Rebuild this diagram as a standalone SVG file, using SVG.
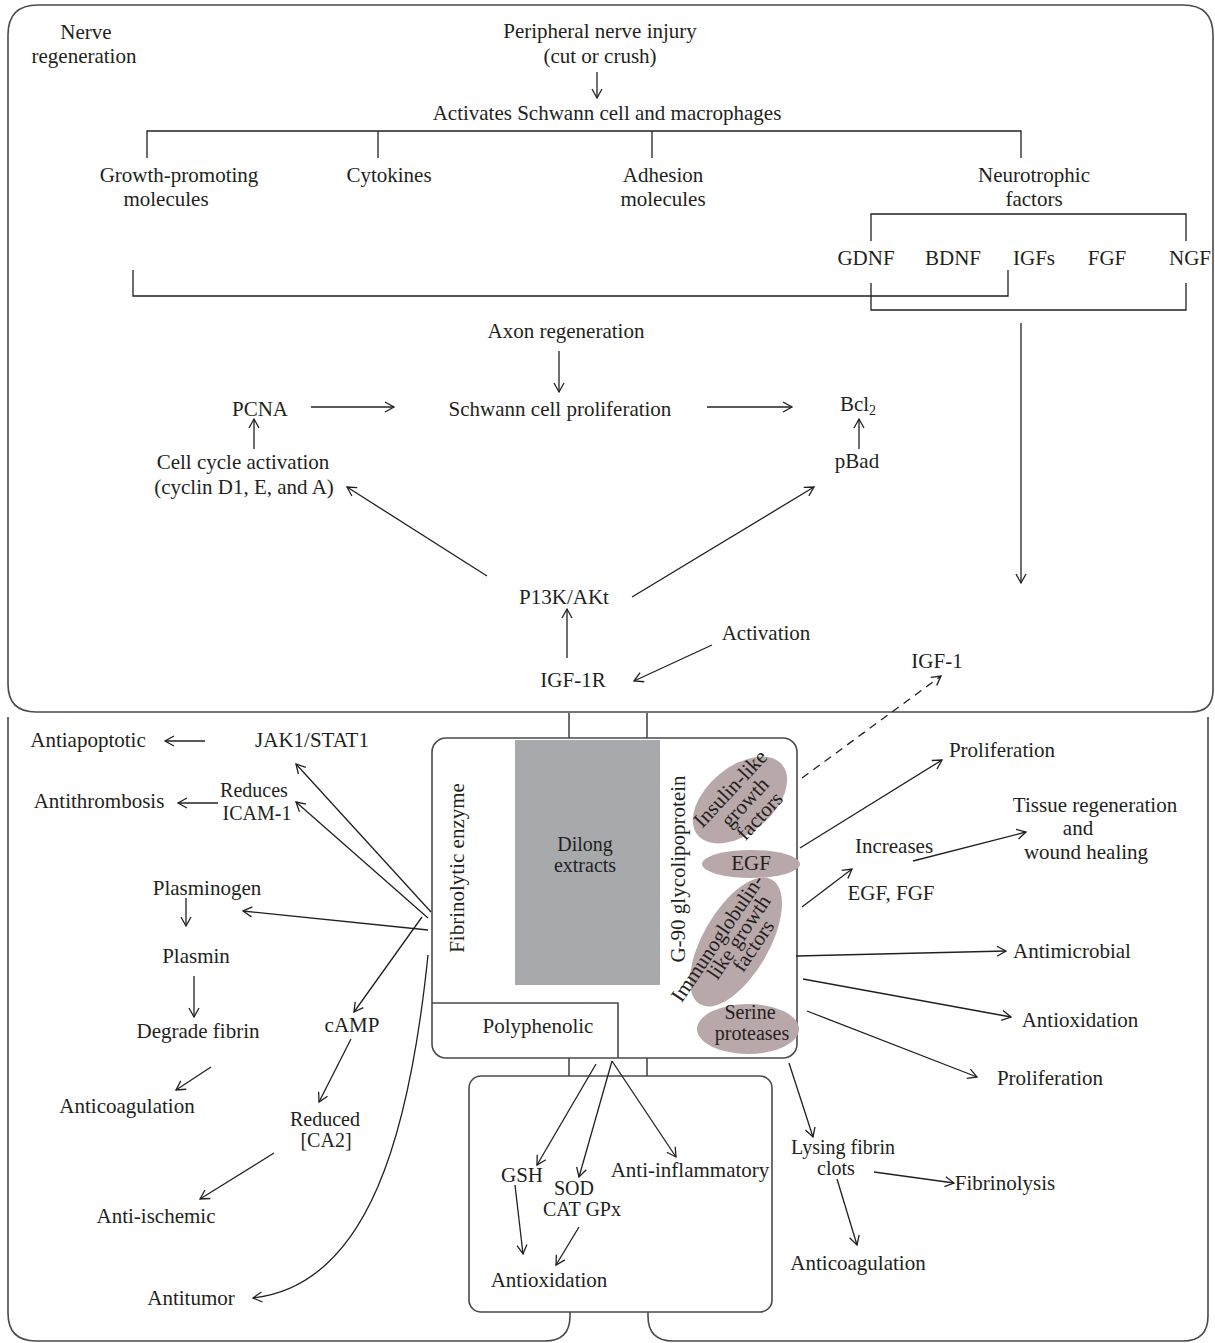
<svg xmlns="http://www.w3.org/2000/svg" width="1215" height="1343" viewBox="0 0 1215 1343">
<style>
.t{font-family:"Liberation Serif","Times New Roman",serif;font-size:21px;fill:#231f20;text-anchor:middle}
.s{font-size:20px}
.box{fill:none;stroke:#4a4a4a;stroke-width:1.6}
.ln{fill:none;stroke:#231f20;stroke-width:1.3}
.ar{marker-end:url(#ah)}
.el{fill:#b9a8aa}
</style>
<defs>
<marker id="ah" viewBox="-10 -6 12 12" refX="0" refY="0" markerWidth="12" markerHeight="12" markerUnits="userSpaceOnUse" orient="auto">
<path d="M-9,-5 L0,0 L-9,5" fill="none" stroke="#231f20" stroke-width="1.3"/>
</marker>
</defs>
<rect width="1215" height="1343" fill="#fff"/>

<g id="frames">
<path class="box" d="M38,5 H1183 Q1213,5 1213,35 V690 Q1213,712 1191,712 H36 Q8,712 8,684 V35 Q8,5 38,5 Z"/>
<path class="box" d="M8,717 V1313 Q8,1341 36,1341 H545 Q570,1341 570,1316 V1312"/>
<path class="box" d="M648,1312 V1316 Q648,1341 673,1341 H1183 Q1208,1341 1208,1316 V717"/>
</g>

<g id="central-box">
<rect class="box" x="432" y="738" width="365" height="320" rx="14"/>
<rect x="515" y="740" width="145" height="245" fill="#a7a9ac"/>
<text class="t s" x="585" y="851">Dilong</text>
<text class="t s" x="585" y="872">extracts</text>
<text class="t" transform="translate(464,868) rotate(-90)">Fibrinolytic enzyme</text>
<text class="t" transform="translate(685,869) rotate(-90)">G-90 glycolipoprotein</text>
</g>
<g id="polyphenolic">
<path class="box" d="M432,1003 H618 V1058"/>
<text class="t" x="538" y="1033">Polyphenolic</text>
</g>
<g id="insulin">
<ellipse class="el" cx="0" cy="0" rx="55" ry="33" transform="translate(740,800) rotate(-40)"/>
<g transform="translate(750,807) rotate(-47)">
<text class="t" x="0" y="-20">Insulin-like</text>
<text class="t" x="0" y="0">growth</text>
<text class="t" x="0" y="20">factors</text>
</g>
</g>
<g id="egf">
<ellipse class="el" cx="751" cy="864" rx="49" ry="14"/>
<text class="t" x="751" y="870">EGF</text>
</g>
<g id="immuno">
<ellipse class="el" cx="0" cy="0" rx="72" ry="33" transform="translate(736,942) rotate(-60)"/>
<g transform="translate(738,945) rotate(-56)">
<text class="t" x="-6" y="-14">Immunoglobulin-</text>
<text class="t" x="7" y="3">like growth</text>
<text class="t" x="8" y="20">factors</text>
</g>
</g>
<g id="serine">
<ellipse class="el" cx="748" cy="1029" rx="51" ry="25"/>
<text class="t s" x="750" y="1019">Serine</text>
<text class="t s" x="752" y="1040">proteases</text>
</g>
<g id="lower-box">
<rect class="box" x="469" y="1076" width="303" height="236" rx="12"/>
</g>

<g id="connectors">
<path class="box" d="M569,713 V738 M647,713 V738 M569,1058 V1076 M647,1058 V1076"/>
<path class="ln" d="M147,158 V131 H1021 V158 M378,131 V158 M652,131 V158"/>
<path class="ln" d="M871,241 V214 H1186 V241"/>
<path class="ln" d="M871,283 V310 H1186 V283"/>
<path class="ln" d="M133,270 V296 H1008 V270"/>
<path class="ln ar" d="M597,72 V98"/>
<path class="ln ar" d="M559,351 V392"/>
<path class="ln ar" d="M311,407 H394"/>
<path class="ln ar" d="M707,407 H792"/>
<path class="ln ar" d="M254,449 V419"/>
<path class="ln ar" d="M859,449 V419"/>
<path class="ln ar" d="M487,576 L347,487"/>
<path class="ln ar" d="M632,597 L814,487"/>
<path class="ln ar" d="M567,658 V609"/>
<path class="ln ar" d="M712,645 L634,681"/>
<path class="ln ar" d="M1021,323 V583"/>
<path class="ln ar" stroke-dasharray="8 6" d="M802,778 L941,676"/>
<path class="ln ar" d="M205,741 H165"/>
<path class="ln ar" d="M218,803 H178"/>
<path class="ln ar" d="M431,912 L296,764"/>
<path class="ln ar" d="M428,918 L296,802"/>
<path class="ln ar" d="M428,930 L243,911"/>
<path class="ln ar" d="M186,898 V926"/>
<path class="ln ar" d="M194,976 V1017"/>
<path class="ln ar" d="M211,1067 L176,1090"/>
<path class="ln ar" d="M422,917 L354,1012"/>
<path class="ln ar" d="M351,1039 L319,1102"/>
<path class="ln ar" d="M274,1153 L200,1199"/>
<path class="ln ar" d="M428,955 C410,1130 370,1285 253,1298"/>
<path class="ln ar" d="M800,848 L942,760"/>
<path class="ln ar" d="M802,907 L852,869"/>
<path class="ln ar" d="M913,861 L1026,832"/>
<path class="ln ar" d="M796,956 L1006,951"/>
<path class="ln ar" d="M803,979 L1011,1017"/>
<path class="ln ar" d="M807,1011 L977,1077"/>
<path class="ln ar" d="M789,1063 L813,1137"/>
<path class="ln ar" d="M874,1172 L954,1183"/>
<path class="ln ar" d="M837,1179 L857,1245"/>
<path class="ln ar" d="M596,1064 L537,1165"/>
<path class="ln ar" d="M612,1061 L579,1177"/>
<path class="ln ar" d="M612,1061 L676,1157"/>
<path class="ln ar" d="M515,1185 L523,1254"/>
<path class="ln ar" d="M579,1227 L556,1265"/>
</g>

<g id="top-labels">
<g id="nerve-regeneration"><text class="t" x="86" y="39">Nerve</text><text class="t" x="84" y="63">regeneration</text></g>
<g id="injury"><text class="t" x="600" y="38">Peripheral nerve injury</text><text class="t" x="600" y="63">(cut or crush)</text></g>
<g id="activates"><text class="t" x="607" y="120">Activates Schwann cell and macrophages</text></g>
<g id="growth"><text class="t" x="179" y="182">Growth-promoting</text><text class="t" x="166" y="206">molecules</text></g>
<g id="cytokines"><text class="t" x="389" y="182">Cytokines</text></g>
<g id="adhesion"><text class="t" x="663" y="182">Adhesion</text><text class="t" x="663" y="206">molecules</text></g>
<g id="neurotrophic"><text class="t" x="1034" y="182">Neurotrophic</text><text class="t" x="1034" y="206">factors</text></g>
<g id="gdnf"><text class="t" x="866" y="265">GDNF</text></g>
<g id="bdnf"><text class="t" x="953" y="265">BDNF</text></g>
<g id="igfs"><text class="t" x="1034" y="265">IGFs</text></g>
<g id="fgf"><text class="t" x="1107" y="265">FGF</text></g>
<g id="ngf"><text class="t" x="1190" y="265">NGF</text></g>
<g id="axon"><text class="t" x="566" y="338">Axon regeneration</text></g>
<g id="pcna"><text class="t" x="260" y="416">PCNA</text></g>
<g id="schwann"><text class="t" x="560" y="416">Schwann cell proliferation</text></g>
<g id="bcl2"><text class="t" x="858" y="411">Bcl<tspan font-size="14" dy="4">2</tspan></text></g>
<g id="cellcycle"><text class="t" x="243" y="469">Cell cycle activation</text><text class="t" x="244" y="494">(cyclin D1, E, and A)</text></g>
<g id="pbad"><text class="t" x="857" y="468">pBad</text></g>
<g id="p13k"><text class="t" x="564" y="604">P13K/AKt</text></g>
<g id="activation"><text class="t" x="766" y="640">Activation</text></g>
<g id="igf1r"><text class="t" x="573" y="687">IGF-1R</text></g>
<g id="igf1"><text class="t" x="937" y="668">IGF-1</text></g>
</g>

<g id="left-labels">
<g id="antiapoptotic"><text class="t" x="88" y="747">Antiapoptotic</text></g>
<g id="jak1"><text class="t" x="312" y="747">JAK1/STAT1</text></g>
<g id="antithrombosis"><text class="t" x="99" y="808">Antithrombosis</text></g>
<g id="icam"><text class="t s" x="254" y="797">Reduces</text><text class="t s" x="257" y="820">ICAM-1</text></g>
<g id="plasminogen"><text class="t" x="207" y="895">Plasminogen</text></g>
<g id="plasmin"><text class="t" x="196" y="963">Plasmin</text></g>
<g id="degrade"><text class="t" x="198" y="1038">Degrade fibrin</text></g>
<g id="anticoag1"><text class="t" x="127" y="1113">Anticoagulation</text></g>
<g id="camp"><text class="t" x="352" y="1032">cAMP</text></g>
<g id="reduced"><text class="t s" x="325" y="1126">Reduced</text><text class="t s" x="326" y="1147">[CA2]</text></g>
<g id="antiischemic"><text class="t" x="156" y="1223">Anti-ischemic</text></g>
<g id="antitumor"><text class="t" x="191" y="1305">Antitumor</text></g>
</g>

<g id="right-labels">
<g id="prolif1"><text class="t" x="1002" y="757">Proliferation</text></g>
<g id="increases"><text class="t" x="894" y="853">Increases</text></g>
<g id="egffgf"><text class="t" x="891" y="900">EGF, FGF</text></g>
<g id="tissue"><text class="t" x="1095" y="812">Tissue regeneration</text><text class="t" x="1078" y="835">and</text><text class="t" x="1086" y="859">wound healing</text></g>
<g id="antimicrobial"><text class="t" x="1072" y="958">Antimicrobial</text></g>
<g id="antiox1"><text class="t" x="1080" y="1027">Antioxidation</text></g>
<g id="prolif2"><text class="t" x="1050" y="1085">Proliferation</text></g>
<g id="lysing"><text class="t s" x="843" y="1154">Lysing fibrin</text><text class="t s" x="836" y="1175">clots</text></g>
<g id="fibrinolysis"><text class="t" x="1005" y="1190">Fibrinolysis</text></g>
<g id="anticoag2"><text class="t" x="858" y="1270">Anticoagulation</text></g>
</g>

<g id="lower-labels">
<g id="gsh"><text class="t" x="522" y="1182">GSH</text></g>
<g id="sod"><text class="t s" x="574" y="1195">SOD</text><text class="t s" x="582" y="1216">CAT GPx</text></g>
<g id="antiinflam"><text class="t" x="690" y="1177">Anti-inflammatory</text></g>
<g id="antiox2"><text class="t" x="549" y="1287">Antioxidation</text></g>
</g>
</svg>
